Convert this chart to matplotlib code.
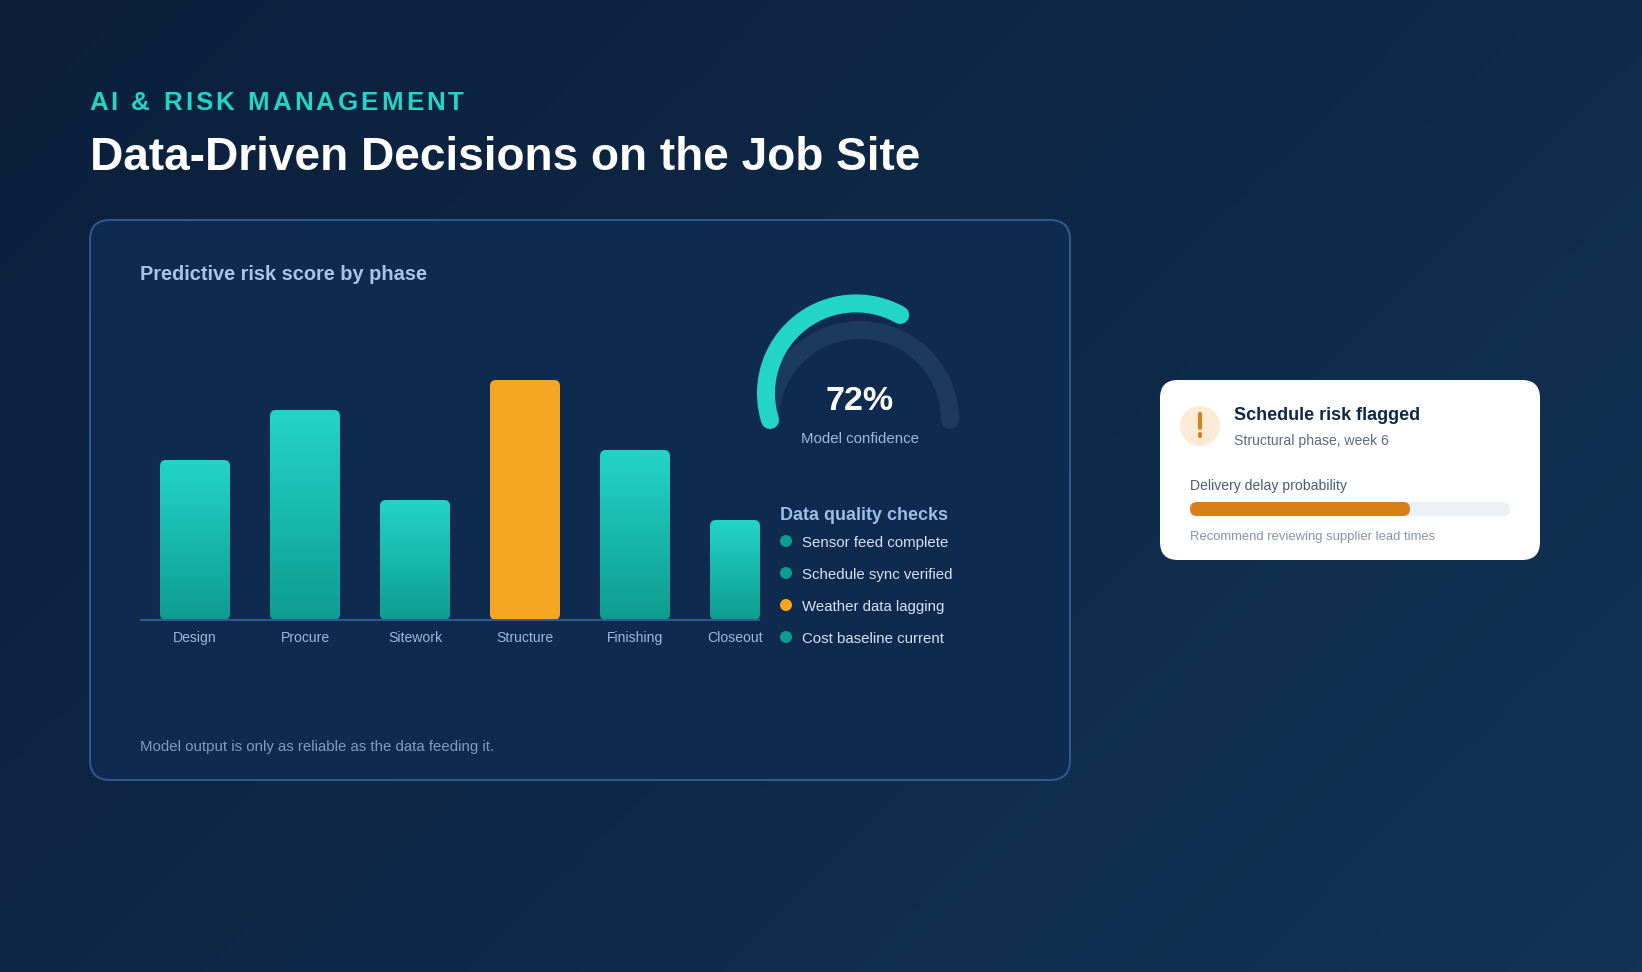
import numpy as np
import matplotlib
matplotlib.use("Agg")
import matplotlib.pyplot as plt
from matplotlib.colors import LinearSegmentedColormap
from matplotlib.patches import Circle, FancyBboxPatch
from matplotlib.text import Text
from matplotlib.transforms import IdentityTransform

plt.rcParams["font.family"] = ["Liberation Sans", "DejaVu Sans"]

W, H = 1642, 972
PX = 0.72  # css px to points at dpi 100

# Data
PHASES = ["Design", "Procure", "Sitework", "Structure", "Finishing", "Closeout"]
RISK_SCORES = [160, 210, 120, 240, 170, 100]
BAR_CENTERS = [195, 305, 415, 525, 635, 735]
BAR_WIDTHS = [70, 70, 70, 70, 70, 50]
FLAGGED_PHASE = "Structure"
CHECK_LABELS = [
    "Sensor feed complete",
    "Schedule sync verified",
    "Weather data lagging",
    "Cost baseline current",
]
CHECK_OK = [True, True, False, True]
CONFIDENCE = 72
DELAY_PROBABILITY = 0.6875

TEAL = "#22d5c7"
TEAL_DARK = "#0e9c91"
AMBER = "#f5a623"
ORANGE = "#d97f17"
BORDER = "#2f5a8f"


class SpacedText(Text):
    """Text with letter spacing, still one text object"""

    spacing = 0

    def draw(self, renderer):
        full = self.get_text()
        x0, y0 = self.get_transform().transform(self.get_position())
        fp = self.get_fontproperties()
        for i, ch in enumerate(full):
            w = renderer.get_text_width_height_descent(full[:i], fp, False)[0] if i else 0
            letter = Text(x0 + w + i * self.spacing, y0, ch, color=self.get_color(),
                          fontproperties=fp, va="baseline", transform=IdentityTransform())
            letter.set_figure(self.get_figure())
            letter.draw(renderer)


def label(x, y, s, size, color, weight="normal", ha="left"):
    ax.text(x, y, s, fontsize=size * PX, color=color, fontweight=weight, ha=ha, va="baseline")


def rounded(target, x, y, w, h, r, **kw):
    patch = FancyBboxPatch((x, y), w, h, boxstyle=f"round,pad=0,rounding_size={r}", **kw)
    target.add_patch(patch)
    return patch


def arc(cx, cy, r, start, end, color):
    angles = np.radians(np.linspace(start, end, 200))
    ax.plot(cx + r * np.cos(angles), cy - r * np.sin(angles), color=color,
            lw=18 * PX, solid_capstyle="round", zorder=3)


fig = plt.figure(figsize=(W / 100, H / 100), dpi=100)
ax = fig.add_axes([0, 0, 1, 1])
ax.set_xlim(0, W)
ax.set_ylim(H, 0)
ax.axis("off")

# Page background, diagonal gradient
xx, yy = np.meshgrid(np.linspace(0, W, 400), np.linspace(0, H, 240))
t = (xx + yy) / (W + H)
page_cmap = LinearSegmentedColormap.from_list("page", ["#0b1f3a", "#123355"])
ax.imshow(t, extent=(0, W, H, 0), cmap=page_cmap, aspect="auto", zorder=0)

# Header
eyebrow = SpacedText(89, 110, "AI & RISK MANAGEMENT", color=TEAL, fontsize=26 * PX,
                     fontweight="bold", va="baseline", transform=ax.transData)
eyebrow.spacing = 3
ax.add_artist(eyebrow)
label(90, 170, "Data-Driven Decisions on the Job Site", 46, "white", "bold")

# Main card
rounded(ax, 90, 220, 980, 560, 20, facecolor="#0f2a4f", edgecolor=BORDER, linewidth=2 * PX, zorder=1)
label(140, 280, "Predictive risk score by phase", 20, "#a5c4e8", "bold")
label(140, 750.5, "Model output is only as reliable as the data feeding it.", 15, "#7f9bbd")

# Bars
bar_ax = fig.add_axes([140 / W, (H - 620) / H, 620 / W, 280 / H])
bar_ax.patch.set_alpha(0)
bar_cmap = LinearSegmentedColormap.from_list("bar", [TEAL, TEAL_DARK])
gradient = np.linspace(0, 1, 256).reshape(-1, 1)
for name, score, center, width in zip(PHASES, RISK_SCORES, BAR_CENTERS, BAR_WIDTHS):
    x0 = center - width / 2
    if name == FLAGGED_PHASE:
        rounded(bar_ax, x0, 0, width, score, 6, facecolor=AMBER, edgecolor="none", zorder=1)
    else:
        clip = rounded(bar_ax, x0, 0, width, score, 6, facecolor="none", edgecolor="none")
        img = bar_ax.imshow(gradient, extent=(x0, x0 + width, 0, score), cmap=bar_cmap,
                            aspect="auto", zorder=1)
        img.set_clip_path(clip)
bar_ax.set_xlim(140, 760)
bar_ax.set_ylim(0, 280)
bar_ax.set_yticks([])
bar_ax.set_xticks(BAR_CENTERS, PHASES, fontsize=14 * PX, color="#9db8d9", va="baseline")
bar_ax.tick_params(axis="x", length=0, pad=22 * PX)
for side in ["top", "left", "right"]:
    bar_ax.spines[side].set_visible(False)
bar_ax.spines["bottom"].set_color(BORDER)
bar_ax.spines["bottom"].set_linewidth(2 * PX)
bar_ax.spines["bottom"].set_capstyle("butt")

# Gauge
arc(860, 420, 90, 180, 0, "#1c3a5e")
arc(856, 393.4, 90, 197.2, 60.6, TEAL)
label(860, 410, f"{CONFIDENCE}%", 34, "white", "bold", ha="center")
label(860, 442.5, "Model confidence", 15, "#9db8d9", ha="center")

# Data quality list
label(780, 520, "Data quality checks", 18, "#9dbde6", "bold")
for i, (text, ok) in enumerate(zip(CHECK_LABELS, CHECK_OK)):
    y = 541 + 32 * i
    ax.add_patch(Circle((786, y), 6, facecolor=TEAL_DARK if ok else AMBER, edgecolor="none", zorder=3))
    label(802, y + 5.5, text, 15, "#d6e2f0")

# Alert card
rounded(ax, 1160, 380, 380, 180, 18, facecolor="white", edgecolor="none", zorder=1)
ax.add_patch(Circle((1200, 426), 20, facecolor="#fdebd8", edgecolor="none", zorder=2))
rounded(ax, 1198, 412, 4, 18, 2, facecolor=ORANGE, edgecolor="none", zorder=3)
rounded(ax, 1198, 432, 4, 6, 2, facecolor=ORANGE, edgecolor="none", zorder=3)
label(1234, 420, "Schedule risk flagged", 18, "#0f2847", "bold")
label(1234, 444.5, "Structural phase, week 6", 14, "#5b6b80")
label(1190, 490, "Delivery delay probability", 14, "#4a5c73")
rounded(ax, 1190, 502, 320, 14, 7, facecolor="#edf1f5", edgecolor="none", zorder=2)
rounded(ax, 1190, 502, 320 * DELAY_PROBABILITY, 14, 7, facecolor=ORANGE, edgecolor="none", zorder=3)
label(1190, 540, "Recommend reviewing supplier lead times", 13, "#8894a3")

ax.set_xlim(0, W)
ax.set_ylim(H, 0)
fig.savefig("out.png", dpi=100)
